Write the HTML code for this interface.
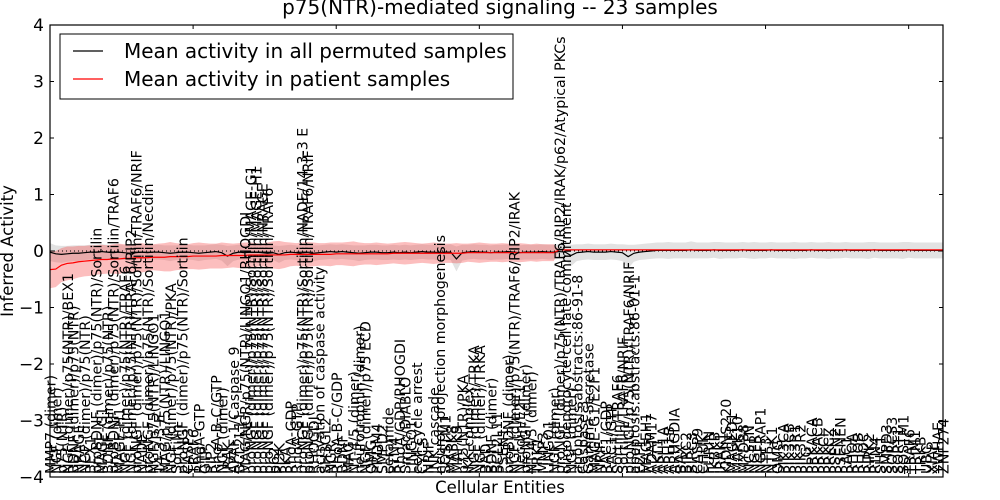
<!DOCTYPE html>
<html><head><meta charset="utf-8"><style>
html,body{margin:0;padding:0;background:#fff;}
svg{display:block;font-family:"DejaVu Sans","Liberation Sans",sans-serif;}
</style></head><body>
<svg id="chart" width="1000" height="500" viewBox="0 0 1000 500"></svg>
<script>
const categories=[
"MMP7 (dimer)","NGF (dimer)","p75(NTR)","NGF (dimer)/p75(NTR)/BEX1","BDNF (dimer)/p75(NTR)","NRAGE","NGF (dimer)/p75(NTR)","BEX1","proBDNF (dimer)/p75(NTR)/Sortilin","MAGE-G1","BDNF (dimer)/p75(NTR)","proBDNF (dimer)/p75(NTR)/Sortilin/TRAF6","MAGE-H1","NGF (dimer)/p75(NTR)/TRAF6","NGF (dimer)/p75(NTR)/TRAF6/RIP2","proNGF (dimer)/p75(NTR)/Sortilin/TRAF6/NRIF","NADE","proNGF (dimer)/p75(NTR)/Sortilin/Necdin","NGF/p75(NTR)/LINGO1","14-3-3 E","MAG/p75(NTR)/LINGO1","NGF (dimer)/p75(NTR)/PKA","Sortilin","proNGF (dimer)/p75(NTR)/Sortilin","CASP3","TRAF6","RhoA-GTP","GTP","RIP2","RhoA-B-C/GTP","NGF (dimer)","IRAK","APAF-1/Caspase 9","BCL2L11","MAG/NGR/p75(NTR)/LINGO1/RHOGDI","proNGF (dimer)/p75(NTR)/Sortilin/MAGE-G1","proNGF (dimer)/p75(NTR)/Sortilin/MAGE-H1","proNGF (dimer)/p75(NTR)/Sortilin/NRAGE","proNGF (dimer)/p75(NTR)/Sortilin/TRAF6","p62","PI3K","PKA","RhoA-GDP","RhoA-GTP","proNGF (dimer)/p75(NTR)/Sortilin/NADE/14-3-3 E","proNGF (dimer)/p75(NTR)/Sortilin/TRAF6/NRIF","RHOGDI","activation of caspase activity","SH3GL2","NGR","RhoA-B-C/GDP","BDNF","MAG","NT-4/5 (dimer)","neurotrophin (dimer)","NGF (dimer)/p75 ECD","OMG","PRDM4","SMPD2","ceramide","RTN4","RhoA/GDP/RHOGDI","Smac/DIABLO","LINGO1","cell cycle arrest","CYCS","NRIF","JNK cascade","neuron projection morphogenesis","SQSTM1","MAPK8","MAPK9","p75(NTR)/PKA","IKK complex","NGF (dimer)/TRKA","NGF (dimer)/TRKA","BAD","BDNF (dimer)","BCL2L11","PSEN1","proBDNF (dimer)","NGF (dimer)/p75(NTR)/TRAF6/RIP2/IRAK","Necdin/E2F1","proNGF (dimer)","NT-4/5 (dimer)","TRK1","MMP3","LINGO1","NGF (dimer)",
"proNGF (dimer)/p75(NTR)/TRAF6/RIP2/IRAK/p62/Atypical PKCs","oligodendrocyte cell fate commitment","NGF (dimer)","apoptosis:abstracts:86-91-8","Caspase 3","Gamma Secretase","MAGE-G1/E2F1","NRIF","RAC1/GDP","RAC1/GTP","Sortilin/TRAF6","Sortilin/TRAF6/NRIF","proNGF/p75(NTR)/TRAF6/NRIF","apoptosis:abstracts:86-01-1","E2F1","MAGEH1","ADAM17","AKT1","APH1A","APH1B","ARHGDIA","BAX",
"BIRC2","BIRC3","CASP9","CHUK","FURIN","IKBKB","IRAK1","KIDINS220","MAGED1","MAPK10","MYD88","NCSTN","NGFR","NGFRAP1","NTF3","NTRK1","OMG","PIK3CA","PIK3CB","PIK3R1","PIK3R2","PLG","PRKACA","PRKACB","PRKCI","PRKCZ","PSEN2","PSENEN","RAC1","RHOA","RHOB","RHOC","RIPK2","RTN4","SHC1","SMPD3","SORCS3","SORT1","SQSTM1","TRAF6","TRIM1","TRKB","UBC","XIAP","YWHAE","ZNF274"];
const permutedMean=[
-0.02,-0.05,-0.06,-0.05,-0.04,-0.04,-0.03,-0.02,-0.02,-0.01,
-0.02,-0.03,-0.02,-0.03,-0.04,-0.03,-0.02,-0.03,-0.02,-0.02,
-0.03,-0.04,-0.03,-0.02,-0.02,-0.03,-0.04,-0.03,-0.02,-0.01,
-0.03,-0.09,-0.04,-0.02,-0.03,-0.02,-0.02,-0.03,-0.04,-0.03,
-0.06,-0.03,-0.02,-0.03,-0.05,-0.06,-0.04,-0.03,-0.02,-0.01,
-0.02,-0.01,-0.02,-0.03,-0.04,-0.03,-0.02,-0.02,-0.03,-0.03,
-0.02,-0.03,-0.02,-0.03,-0.02,-0.01,-0.02,-0.02,-0.03,-0.02,
-0.02,-0.14,-0.03,-0.02,-0.01,-0.02,-0.02,-0.03,-0.02,-0.02,
-0.01,-0.02,-0.03,-0.02,-0.02,-0.02,-0.01,-0.02,-0.02,-0.01,
-0.02,-0.08,-0.03,-0.02,-0.01,-0.02,-0.02,-0.02,-0.01,-0.02,
-0.03,-0.10,-0.04,-0.02,-0.01,0.00,0.01,0.01,0.01,0.01,
0.01,0.01,0.02,0.01,0.01,0.01,0.02,0.01,0.01,0.01,
0.01,0.02,0.01,0.01,0.01,0.01,0.02,0.01,0.01,0.01,
0.01,0.01,0.01,0.02,0.01,0.01,0.01,0.01,0.01,0.02,
0.01,0.01,0.01,0.01,0.02,0.01,0.01,0.01,0.01,0.01,
0.02,0.01,0.01,0.01,0.01,0.01,0.01];
const permutedStd=[
0.16,0.15,0.15,0.14,0.14,0.14,0.13,0.13,0.13,0.13,
0.13,0.13,0.14,0.13,0.13,0.13,0.12,0.13,0.13,0.13,
0.13,0.14,0.13,0.13,0.13,0.13,0.14,0.13,0.13,0.13,
0.14,0.18,0.14,0.13,0.13,0.13,0.13,0.13,0.14,0.13,
0.15,0.13,0.13,0.13,0.14,0.15,0.14,0.13,0.13,0.13,
0.13,0.13,0.13,0.13,0.14,0.13,0.13,0.13,0.13,0.13,
0.13,0.13,0.13,0.13,0.13,0.13,0.13,0.13,0.14,0.13,
0.14,0.22,0.14,0.13,0.13,0.13,0.13,0.13,0.13,0.13,
0.13,0.13,0.13,0.13,0.13,0.13,0.13,0.13,0.13,0.13,
0.14,0.19,0.15,0.14,0.14,0.14,0.14,0.14,0.14,0.14,
0.15,0.21,0.15,0.14,0.14,0.14,0.14,0.14,0.15,0.14,
0.14,0.14,0.15,0.14,0.14,0.14,0.14,0.15,0.14,0.14,
0.14,0.14,0.14,0.15,0.14,0.14,0.14,0.14,0.14,0.14,
0.15,0.14,0.14,0.14,0.14,0.14,0.15,0.14,0.14,0.14,
0.14,0.14,0.14,0.15,0.14,0.14,0.14,0.14,0.14,0.15,
0.14,0.14,0.14,0.14,0.14,0.14,0.14];
const patientMean=[
-0.33,-0.32,-0.25,-0.22,-0.21,-0.19,-0.18,-0.17,-0.16,-0.15,
-0.15,-0.14,-0.14,-0.13,-0.13,-0.12,-0.12,-0.12,-0.11,-0.11,
-0.11,-0.10,-0.10,-0.10,-0.10,-0.09,-0.09,-0.09,-0.09,-0.09,
-0.08,-0.08,-0.08,-0.08,-0.08,-0.07,-0.07,-0.07,-0.07,-0.07,
-0.07,-0.07,-0.06,-0.06,-0.06,-0.06,-0.06,-0.06,-0.06,-0.06,
-0.05,-0.05,-0.05,-0.05,-0.05,-0.05,-0.05,-0.05,-0.05,-0.05,
-0.04,-0.04,-0.04,-0.04,-0.04,-0.04,-0.04,-0.04,-0.04,-0.04,
-0.04,-0.04,-0.04,-0.03,-0.03,-0.03,-0.03,-0.03,-0.03,-0.03,
-0.03,-0.03,-0.03,-0.03,-0.03,-0.03,-0.03,-0.03,-0.03,0.02,
0.02,0.02,0.02,0.02,0.02,0.02,0.02,0.02,0.02,0.02,
0.02,0.02,0.02,0.02,0.02,0.02,0.02,0.02,0.02,0.02,
0.02,0.02,0.02,0.02,0.02,0.02,0.02,0.02,0.02,0.02,
0.02,0.02,0.02,0.02,0.02,0.02,0.02,0.02,0.02,0.02,
0.02,0.02,0.02,0.02,0.02,0.02,0.02,0.02,0.02,0.02,
0.02,0.02,0.02,0.02,0.02,0.02,0.02,0.02,0.02,0.02,
0.02,0.02,0.02,0.02,0.02,0.02,0.02];
const patientStd=[
0.33,0.32,0.30,0.30,0.29,0.28,0.27,0.27,0.26,0.26,
0.25,0.26,0.27,0.25,0.24,0.25,0.26,0.24,0.23,0.24,
0.25,0.26,0.24,0.23,0.22,0.23,0.24,0.23,0.22,0.22,
0.23,0.22,0.21,0.22,0.23,0.22,0.21,0.20,0.22,0.24,
0.25,0.23,0.21,0.20,0.21,0.22,0.21,0.20,0.20,0.21,
0.20,0.20,0.21,0.22,0.20,0.19,0.19,0.20,0.19,0.18,
0.18,0.19,0.20,0.19,0.18,0.17,0.18,0.19,0.18,0.17,
0.17,0.18,0.17,0.16,0.17,0.18,0.17,0.16,0.16,0.17,
0.16,0.16,0.17,0.16,0.15,0.16,0.15,0.15,0.15,0,
0,0,0,0,0,0,0,0,0,0,
0,0,0,0,0,0,0,0,0,0,
0,0,0,0,0,0,0,0,0,0,
0,0,0,0,0,0,0,0,0,0,
0,0,0,0,0,0,0,0,0,0,
0,0,0,0,0,0,0,0,0,0,
0,0,0,0,0,0,0];
const yTicks=[-4,-3,-2,-1,0,1,2,3,4];
const yTickLabels=["\u22124","\u22123","\u22122","\u22121","0","1","2","3","4"];
const xTicks=[0,25,50,75,100,125,150];

const NS="http://www.w3.org/2000/svg";
const svg=document.getElementById('chart');
const L=50,R=943,T=25,B=477;
const N=categories.length;
const xS=i=>L+i*(R-L)/(N-1);
const yS=v=>T+(4-v)*(B-T)/8;
function mk(tag,attrs,parent){const e=document.createElementNS(NS,tag);for(const k in attrs)e.setAttribute(k,attrs[k]);(parent||svg).appendChild(e);return e;}

function band(mean,std,fill,name){
  let up=[],dn=[];
  for(let i=0;i<N;i++){up.push(xS(i)+','+yS(mean[i]+std[i]));dn.unshift(xS(i)+','+yS(mean[i]-std[i]));}
  const p=mk('polygon',{points:up.concat(dn).join(' '),fill:fill,stroke:'none'});
  
  
}
function line(mean,color,name){
  let pts=[];for(let i=0;i<N;i++)pts.push(xS(i)+','+yS(mean[i]));
  const p=mk('polyline',{points:pts.join(' '),fill:'none',stroke:color,'stroke-width':1.2});
  
  
}
band(permutedMean,permutedStd,'rgba(190,190,190,0.45)','permuted-std-band');
band(patientMean,patientStd,'rgba(245,70,70,0.35)','patient-std-band');
const z=mk('line',{x1:L,x2:R,y1:yS(0),y2:yS(0),stroke:'#000','stroke-width':1,'stroke-dasharray':'1,3'});


line(permutedMean,'#000','permuted-mean-line');
line(patientMean,'#f00','patient-mean-line');

const lg=mk('g',{'font-size':'14.2','fill':'#000'});


for(let i=0;i<N;i++){
  const t=mk('text',{transform:`translate(${xS(i)+0.5},${B-3}) rotate(-90)`,'text-anchor':'start',dy:'0.36em'},lg);
  
  
  t.textContent=categories[i];
}

const fr=mk('rect',{x:L,y:T,width:R-L,height:B-T,fill:'none',stroke:'#000','stroke-width':1.2});


yTicks.forEach((v,k)=>{
  const y=yS(v);
  mk('line',{x1:L,x2:L+4,y1:y,y2:y,stroke:'#000'});
  mk('line',{x1:R-4,x2:R,y1:y,y2:y,stroke:'#000'});
  const t=mk('text',{x:L-6,y:y+6,'text-anchor':'end','font-size':'17'});
  
  
  t.textContent=yTickLabels[k];
});
xTicks.forEach(v=>{
  const x=xS(v);
  mk('line',{x1:x,x2:x,y1:B,y2:B-4,stroke:'#000'});
  mk('line',{x1:x,x2:x,y1:T,y2:T+4,stroke:'#000'});
});
</script>
<svg width="1000" height="500" style="position:absolute;left:0;top:0">
<text x="500" y="14" text-anchor="middle" font-size="20">p75(NTR)-mediated signaling -- 23 samples</text>
<text transform="translate(13,251) rotate(-90)" text-anchor="middle" font-size="16.5">Inferred Activity</text>
<text x="500" y="493" text-anchor="middle" font-size="16.5">Cellular Entities</text>
<g>
<rect x="60" y="34" width="453" height="65" fill="#fff" stroke="#000" stroke-width="1"/>
<line x1="73" x2="103" y1="51" y2="51" stroke="#000" stroke-width="1.2"/>
<text x="124" y="58" font-size="20">Mean activity in all permuted samples</text>
<line x1="73" x2="103" y1="79" y2="79" stroke="#f00" stroke-width="1.2"/>
<text x="124" y="86" font-size="20">Mean activity in patient samples</text>
</g>
</svg>
</body></html>
